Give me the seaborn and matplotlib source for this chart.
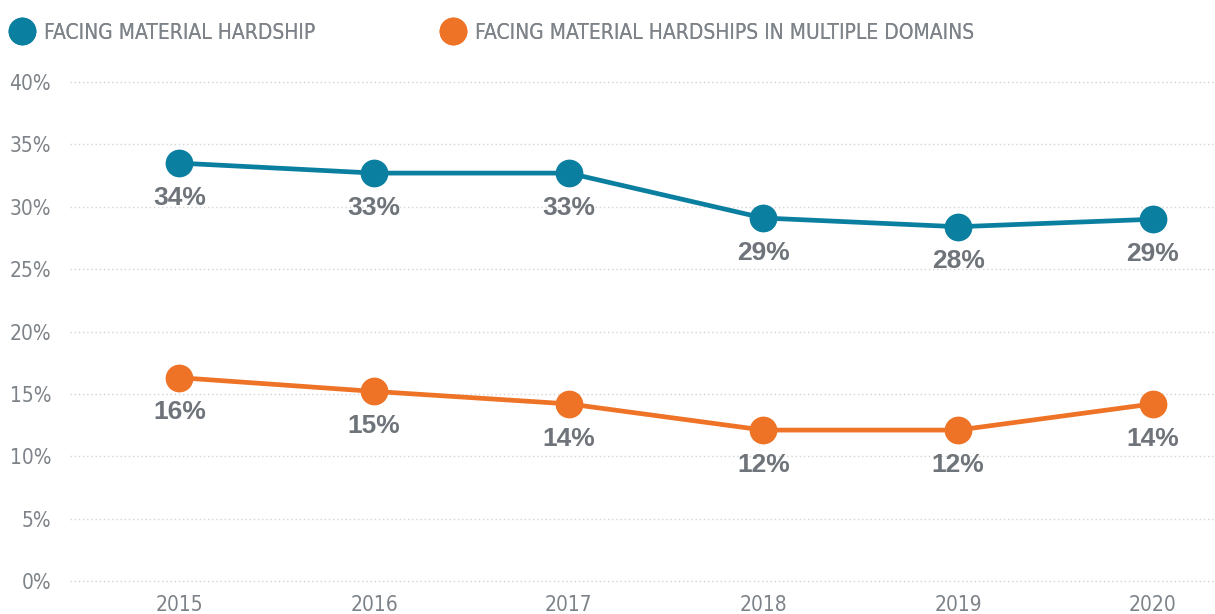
import pandas as pd
import matplotlib.pyplot as plt
import seaborn as sns
from matplotlib.lines import Line2D

# --- Data ---
years = [2015, 2016, 2017, 2018, 2019, 2020]
hardship = [33.5, 32.7, 32.7, 29.1, 28.4, 29.0]
multi_domain = [16.3, 15.2, 14.2, 12.1, 12.1, 14.2]
hardship_labels = ["34%", "33%", "33%", "29%", "28%", "29%"]
multi_labels = ["16%", "15%", "14%", "12%", "12%", "14%"]
series_names = ["FACING MATERIAL HARDSHIP", "FACING MATERIAL HARDSHIPS IN MULTIPLE DOMAINS"]
y_ticks = [0, 5, 10, 15, 20, 25, 30, 35, 40]

teal = "#0b7fa0"
orange = "#ee7326"
grey = "#7d8389"
label_grey = "#6e747a"

sns.set_theme(style="white")
plt.rcParams['font.family'] = ["DejaVu Sans"]
plt.rcParams['font.stretch'] = "condensed"

df = pd.DataFrame({
    "year": years * 2,
    "value": hardship + multi_domain,
    "series": [series_names[0]] * len(years) + [series_names[1]] * len(years),
})
df["pos"] = df["year"] - years[0]

fig = plt.figure(figsize=(12.15, 6.14), dpi=100)
ax = fig.add_axes([0.058, 0.0537, 0.942, 0.8127])

sns.lineplot(data=df, x="pos", y="value", hue="series",
             palette={series_names[0]: teal, series_names[1]: orange},
             marker="o", markersize=20, markeredgewidth=0, linewidth=3.4,
             legend=False, ax=ax, clip_on=False, zorder=3)

# data labels below points
for vals, labs in [(hardship, hardship_labels), (multi_domain, multi_labels)]:
    for i, (v, lab) in enumerate(zip(vals, labs)):
        ax.annotate(lab, (i, v), xytext=(0, -25), textcoords="offset points",
                    ha="center", va="center", fontsize=19, fontweight="bold",
                    color=label_grey, family=["Liberation Sans", "DejaVu Sans"],
                    fontstretch="normal")

ax.set_xlim(-0.56, 5.32)
ax.set_ylim(0, 40)
ax.set_yticks(y_ticks)
ax.set_yticklabels([f"{t}%" for t in y_ticks])
ax.set_xticks(range(len(years)))
ax.set_xticklabels([str(y) for y in years])
ax.tick_params(axis="both", length=0, labelsize=15, labelcolor=grey)
ax.tick_params(axis="y", pad=14)
ax.tick_params(axis="x", pad=10)
ax.set_xlabel("")
ax.set_ylabel("")
for s in ax.spines.values():
    s.set_visible(False)
ax.grid(False)
for t in y_ticks:
    ax.axhline(t, color="#d4d4d4", linestyle=(0, (1, 2)), linewidth=1, zorder=0, clip_on=False)

# legend: two entries placed separately
colors = [teal, orange]
anchors = [-0.0058, 0.3489]
for name, c, x0 in zip(series_names, colors, anchors):
    h = Line2D([], [], linestyle="none", marker="o", markersize=20,
               markerfacecolor=c, markeredgewidth=0)
    leg = fig.legend([h], [name], loc="upper left", bbox_to_anchor=(x0, 0.9886),
                     frameon=False, fontsize=15, handletextpad=0.4,
                     borderaxespad=0.55, borderpad=0.2, handlelength=1.3)
    for txt in leg.get_texts():
        txt.set_color(grey)
    fig.add_artist(leg)

fig.savefig("out.png", dpi=100)
